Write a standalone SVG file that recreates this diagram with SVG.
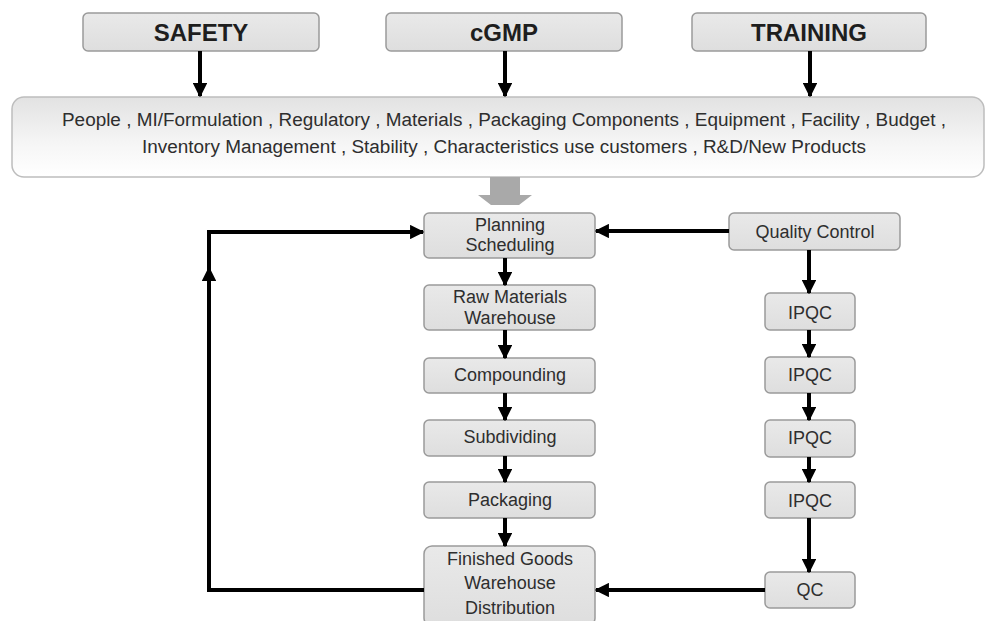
<svg xmlns="http://www.w3.org/2000/svg" width="986" height="621" viewBox="0 0 986 621">
  <defs>
    <linearGradient id="boxFill" x1="0" y1="0" x2="0" y2="1">
      <stop offset="0" stop-color="#e9e9e9"/>
      <stop offset="1" stop-color="#dedede"/>
    </linearGradient>
    <linearGradient id="bandFill" x1="0" y1="0" x2="0" y2="1">
      <stop offset="0" stop-color="#e2e2e2"/>
      <stop offset="0.6" stop-color="#f6f6f6"/>
      <stop offset="1" stop-color="#ffffff"/>
    </linearGradient>
    <marker id="head" viewBox="0 0 10 10" refX="9" refY="5" markerWidth="3.6" markerHeight="3.6" orient="auto" markerUnits="strokeWidth">
      <path d="M0,0 L10,5 L0,10 z" fill="#000"/>
    </marker>
  </defs>
  <style>
    .box { fill: url(#boxFill); stroke: #9a9a9a; stroke-width: 1.5; }
    .band { fill: url(#bandFill); stroke: #bdbdbd; stroke-width: 1.5; }
    .title { font-family: "Liberation Sans", Arial, sans-serif; font-weight: bold; font-size: 24px; fill: #1e1e1e; text-anchor: middle; }
    .lbl { font-family: "Liberation Sans", Arial, sans-serif; font-size: 18px; fill: #2e2e2e; text-anchor: middle; }
    .bandtxt { font-family: "Liberation Sans", Arial, sans-serif; font-size: 18px; fill: #2e2e2e; text-anchor: middle; }
    .link { fill: none; stroke: #000; stroke-width: 4; marker-end: url(#head); }
    .plain { fill: none; stroke: #000; stroke-width: 4; }
  </style>
  <rect width="986" height="621" fill="#fff"/>

  <!-- top pillars -->
  <g id="safety"><rect class="box" x="83" y="13" width="236" height="38" rx="5"/><text class="title" x="201" y="41">SAFETY</text></g>
  <g id="cgmp"><rect class="box" x="386" y="13" width="236" height="38" rx="5"/><text class="title" x="504" y="41">cGMP</text></g>
  <g id="training"><rect class="box" x="692" y="13" width="234" height="38" rx="5"/><text class="title" x="809" y="41">TRAINING</text></g>

  <!-- factors band -->
  <g id="factors">
    <rect class="band" x="12" y="97" width="972" height="80" rx="12"/>
    <text class="bandtxt" x="504" y="126" textLength="884" lengthAdjust="spacingAndGlyphs">People , MI/Formulation , Regulatory , Materials , Packaging Components , Equipment , Facility , Budget ,</text>
    <text class="bandtxt" x="504" y="153" textLength="724" lengthAdjust="spacingAndGlyphs">Inventory Management , Stability , Characteristics use customers , R&amp;D/New Products</text>
  </g>

  <!-- grey block arrow into planning -->
  <g id="feed">
    <polygon points="490,177 520,177 520,195 532,195 519,205 491,205 478,195 490,195" fill="#a9a9a9"/>
  </g>

  <!-- production column -->
  <g id="planning"><rect class="box" x="424" y="213" width="171" height="45" rx="5"/><text class="lbl" x="510" y="231">Planning</text><text class="lbl" x="510" y="251">Scheduling</text></g>
  <g id="raw"><rect class="box" x="424" y="285" width="171" height="45" rx="5"/><text class="lbl" x="510" y="303">Raw Materials</text><text class="lbl" x="510" y="324">Warehouse</text></g>
  <g id="compounding"><rect class="box" x="424" y="358" width="171" height="35" rx="5"/><text class="lbl" x="510" y="381">Compounding</text></g>
  <g id="subdividing"><rect class="box" x="424" y="420" width="171" height="36" rx="5"/><text class="lbl" x="510" y="443">Subdividing</text></g>
  <g id="packaging"><rect class="box" x="424" y="482" width="171" height="36" rx="5"/><text class="lbl" x="510" y="506">Packaging</text></g>
  <g id="finished"><rect class="box" x="424" y="546" width="171" height="80" rx="8"/><text class="lbl" x="510" y="565">Finished Goods</text><text class="lbl" x="510" y="589">Warehouse</text><text class="lbl" x="510" y="614">Distribution</text></g>

  <!-- quality column -->
  <g id="qualitycontrol"><rect class="box" x="729" y="213" width="171" height="37" rx="5"/><text class="lbl" x="815" y="238">Quality Control</text></g>
  <g id="ipqc1"><rect class="box" x="765" y="293" width="90" height="37" rx="5"/><text class="lbl" x="810" y="319">IPQC</text></g>
  <g id="ipqc2"><rect class="box" x="765" y="357" width="90" height="36" rx="5"/><text class="lbl" x="810" y="381">IPQC</text></g>
  <g id="ipqc3"><rect class="box" x="765" y="420" width="90" height="37" rx="5"/><text class="lbl" x="810" y="444">IPQC</text></g>
  <g id="ipqc4"><rect class="box" x="765" y="482" width="90" height="36" rx="5"/><text class="lbl" x="810" y="507">IPQC</text></g>
  <g id="qc"><rect class="box" x="765" y="572" width="90" height="36" rx="5"/><text class="lbl" x="810" y="596">QC</text></g>

  <!-- connectors -->
  <g id="connectors">
    <line class="link" x1="200" y1="51" x2="200" y2="96"/>
    <line class="link" x1="505" y1="51" x2="505" y2="96"/>
    <line class="link" x1="810" y1="51" x2="810" y2="96"/>

    <line class="link" x1="505" y1="258" x2="505" y2="285"/>
    <line class="link" x1="505" y1="330" x2="505" y2="358"/>
    <line class="link" x1="505" y1="393" x2="505" y2="420"/>
    <line class="link" x1="505" y1="456" x2="505" y2="482"/>
    <line class="link" x1="505" y1="518" x2="505" y2="546"/>

    <line class="link" x1="729" y1="231" x2="596" y2="231"/>
    <line class="link" x1="809" y1="250" x2="809" y2="293"/>
    <line class="link" x1="809" y1="330" x2="809" y2="357"/>
    <line class="link" x1="809" y1="393" x2="809" y2="420"/>
    <line class="link" x1="809" y1="457" x2="809" y2="482"/>
    <line class="link" x1="809" y1="518" x2="809" y2="572"/>
    <line class="link" x1="765" y1="590" x2="596" y2="590"/>

    <!-- return loop from distribution back to planning -->
    <polyline class="plain" points="424,590 209,590 209,232 410,232"/>
    <line class="link" x1="300" y1="232" x2="423" y2="232"/>
    <line class="link" x1="209" y1="300" x2="209" y2="268"/>
  </g>
</svg>
